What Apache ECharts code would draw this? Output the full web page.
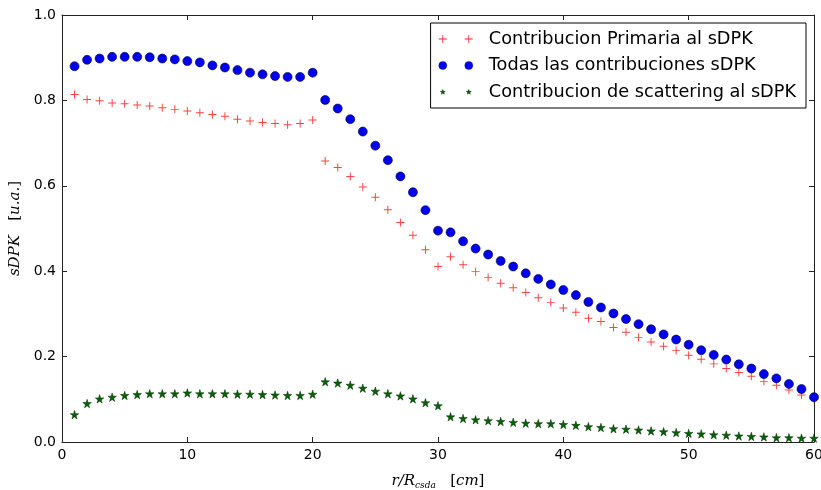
<!DOCTYPE html>
<html>
<head>
<meta charset="utf-8">
<script src="https://cdn.jsdelivr.net/npm/echarts@6/dist/echarts.min.js"></script>
<style>html,body{margin:0;padding:0;background:#fff;overflow:hidden;}#c{width:821px;height:490px;}</style>
</head>
<body>
<div id="c"></div>
<script>
var radios = [1,2,3,4,5,6,7,8,9,10,11,12,13,14,15,16,17,18,19,20,21,22,23,24,25,26,27,28,29,30,31,32,33,34,35,36,37,38,39,40,41,42,43,44,45,46,47,48,49,50,51,52,53,54,55,56,57,58,59,60];
var primaria = [0.814,0.802,0.799,0.794,0.792,0.789,0.787,0.783,0.779,0.775,0.771,0.767,0.763,0.756,0.752,0.748,0.746,0.743,0.746,0.754,
  0.658,0.643,0.622,0.597,0.573,0.544,0.514,0.484,0.450,0.411,
  0.434,0.415,0.399,0.385,0.372,0.361,0.350,0.338,0.327,0.314,
  0.304,0.290,0.282,0.268,0.257,0.245,0.234,0.224,0.214,0.203,
  0.194,0.183,0.172,0.163,0.154,0.142,0.133,0.122,0.110,0.100];
var todas = [0.880,0.895,0.898,0.902,0.902,0.902,0.901,0.898,0.896,0.892,0.889,0.882,0.877,0.871,0.865,0.861,0.857,0.855,0.855,0.865,
  0.801,0.781,0.756,0.727,0.694,0.660,0.622,0.585,0.543,0.495,
  0.491,0.470,0.453,0.439,0.424,0.411,0.395,0.382,0.369,0.356,
  0.344,0.328,0.315,0.301,0.288,0.276,0.264,0.252,0.240,0.228,
  0.215,0.204,0.193,0.182,0.172,0.159,0.149,0.136,0.124,0.105];
var scattering = [0.064,0.090,0.101,0.105,0.109,0.111,0.113,0.113,0.113,0.115,0.113,0.113,0.113,0.112,0.112,0.111,0.110,0.109,0.109,0.112,
  0.141,0.138,0.133,0.126,0.119,0.113,0.108,0.101,0.092,0.085,
  0.059,0.055,0.052,0.050,0.048,0.046,0.044,0.043,0.043,0.041,
  0.039,0.036,0.034,0.031,0.030,0.028,0.026,0.024,0.022,0.020,
  0.019,0.017,0.016,0.014,0.013,0.012,0.010,0.010,0.009,0.009];
var seriesNames = ['Contribucion Primaria al sDPK','Todas las contribuciones sDPK','Contribucion de scattering al sDPK'];
var xTicks = [0,10,20,30,40,50,60];
var yTicks = [0.0,0.2,0.4,0.6,0.8,1.0];

function pairs(ys){ return radios.map(function(x,i){ return [x, ys[i]]; }); }

var PLUS = 'path://M4.4,0h1.2v10h-1.2z M0,4.4h10v1.2h-10z';
var STAR = 'path://M50,0 L61,35 L98,35 L68,57 L79,91 L50,70 L21,91 L32,57 L2,35 L39,35 Z';
var PLUS2 = 'path://M3.6,0h0.8v8h-0.8z M0,3.6h8v0.8h-8z M29.6,0h0.8v8h-0.8z M26,3.6h8v0.8h-8z M45,4 L45,4.01';
var CIRC2 = 'path://M0,4a4,4 0 1,0 8,0a4,4 0 1,0 -8,0z M26,4a4,4 0 1,0 8,0a4,4 0 1,0 -8,0z M45,4 L45,4.01';
var STAR2 = 'path://M4,1.5 L4.7,3.3 L6.6,3.3 L5.1,4.4 L5.6,6.3 L4,5.2 L2.4,6.3 L2.9,4.4 L1.4,3.3 L3.3,3.3 Z M30,1.5 L30.7,3.3 L32.6,3.3 L31.1,4.4 L31.6,6.3 L30,5.2 L28.4,6.3 L28.9,4.4 L27.4,3.3 L29.3,3.3 Z M0,0 L0,0.01 M45,8 L45,8.01';

var chart = echarts.init(document.getElementById('c'), null, {renderer:'canvas'});
var axisLineStyle = {color:'#222', width:1};
var tickFont = {color:'#000', fontSize:14, fontFamily:'DejaVu Sans'};
chart.setOption({
  animation:false,
  backgroundColor:'#fff',
  grid:{left:62, right:7, top:15, bottom:48, containLabel:false, outerBoundsMode:'none'},
  legend:{
    orient:'vertical', right:15, top:23,
    padding:[7,10,7,8],
    borderColor:'#000', borderWidth:1, backgroundColor:'#fff',
    itemWidth:45, itemHeight:8, itemGap:8.5,
    textStyle:{fontSize:17.7, fontFamily:'DejaVu Sans', color:'#000', lineHeight:17},
    data:[
      {name:seriesNames[0], icon:PLUS2, itemStyle:{color:'#ff2020', borderWidth:0, opacity:1}},
      {name:seriesNames[1], icon:CIRC2, itemStyle:{color:'#0000ff', borderColor:'#000033', borderWidth:0.4, opacity:1}},
      {name:seriesNames[2], icon:STAR2, itemStyle:{color:'#006400', borderColor:'#002200', borderWidth:0.4, opacity:1}}
    ]
  },
  xAxis:[{
    type:'value', min:0, max:60, interval:10, position:'bottom',
    axisLine:{show:true, onZero:false, lineStyle:axisLineStyle},
    axisTick:{show:true, inside:true, length:5, lineStyle:axisLineStyle},
    axisLabel:Object.assign({margin:6}, tickFont),
    splitLine:{show:false},
    name:'{i|r/R}{sub|csda}{n|   [}{i|cm}{n|]}', nameLocation:'middle', nameGap:31,
    nameTextStyle:{rich:{
      i:{fontFamily:'DejaVu Serif', fontStyle:'italic', fontSize:15, color:'#000'},
      sub:{fontFamily:'DejaVu Serif', fontStyle:'italic', fontSize:9, color:'#000', padding:[8,0,0,0]},
      n:{fontFamily:'DejaVu Serif', fontSize:15, color:'#000'}
    }}
  },{
    type:'value', min:0, max:60, interval:10, position:'top',
    axisLine:{show:true, onZero:false, lineStyle:axisLineStyle},
    axisTick:{show:true, inside:true, length:5, lineStyle:axisLineStyle},
    axisLabel:{show:false}, splitLine:{show:false}
  }],
  yAxis:[{
    type:'value', min:0, max:1, interval:0.2, position:'left',
    axisLine:{show:true, onZero:false, lineStyle:axisLineStyle},
    axisTick:{show:true, inside:true, length:5, lineStyle:axisLineStyle},
    axisLabel:Object.assign({margin:6, formatter:function(v){return v.toFixed(1);}}, tickFont),
    splitLine:{show:false},
    name:'{i|sDPK}{n|   [}{i|u.a.}{n|]}', nameLocation:'middle', nameGap:36, nameRotate:90,
    nameTextStyle:{rich:{
      i:{fontFamily:'DejaVu Serif', fontStyle:'italic', fontSize:15, color:'#000'},
      n:{fontFamily:'DejaVu Serif', fontSize:15, color:'#000'}
    }}
  },{
    type:'value', min:0, max:1, interval:0.2, position:'right',
    axisLine:{show:true, onZero:false, lineStyle:axisLineStyle},
    axisTick:{show:true, inside:true, length:5, lineStyle:axisLineStyle},
    axisLabel:{show:false}, splitLine:{show:false}
  }],
  series:[
    {name:seriesNames[0], type:'scatter', data:pairs(primaria), symbol:PLUS, symbolSize:8,
      itemStyle:{color:'#ff2020', opacity:0.85}, z:2},
    {name:seriesNames[1], type:'scatter', data:pairs(todas), symbol:'circle', symbolSize:9,
      itemStyle:{color:'#0000f0', borderColor:'#000033', borderWidth:0.6, opacity:1}, z:3},
    {name:seriesNames[2], type:'scatter', data:pairs(scattering), symbol:STAR, symbolSize:8.5,
      itemStyle:{color:'#006400', borderColor:'#002200', borderWidth:0.5, opacity:1}, z:4}
  ]
});
</script>
</body>
</html>
